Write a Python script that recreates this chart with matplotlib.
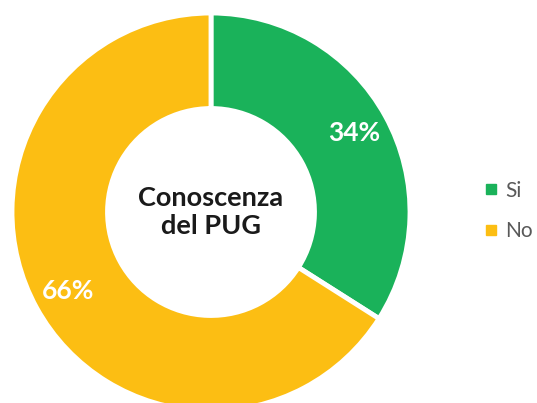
import matplotlib
matplotlib.use("Agg")
import matplotlib.pyplot as plt
from matplotlib.lines import Line2D

categories = ["Si", "No"]
values = [34, 66]
colors = ["#1AB25A", "#FCBE13"]
center_title = "Conoscenza\ndel PUG"

plt.rcParams['font.family'] = ['Lato', 'DejaVu Sans']

fig = plt.figure(figsize=(5.37, 4.03), dpi=100)
W, H = 537, 403
cx, cy, r = 211, 212, 199
ax = fig.add_axes([(cx - r) / W, (H - cy - r) / H, 2 * r / W, 2 * r / H])

wedges, texts, autotexts = ax.pie(
    values, colors=colors, startangle=90, counterclock=False,
    radius=1, autopct=lambda p: f"{p:.0f}%", pctdistance=0.82,
    wedgeprops=dict(width=0.48, edgecolor="white", linewidth=3.5),
    textprops=dict(color="white", fontsize=19, fontweight="bold"))
ax.set_xlim(-1, 1)
ax.set_ylim(-1, 1)
ax.set_aspect("equal")
ax.axis("off")

ax.text(0, 0, center_title, ha="center", va="center", fontsize=19.5,
        fontweight="bold", color="#1a1a1a", linespacing=1.25)

handles = [Line2D([], [], marker="s", linestyle="none", markersize=7.5,
                  markerfacecolor=c, markeredgecolor=c) for c in colors]
fig.legend(handles, categories, loc="center left", bbox_to_anchor=(466 / W, 1 - 211 / H),
           frameon=False, fontsize=15, labelcolor="#595959", handletextpad=0.2,
           labelspacing=1.0, handlelength=1.0, borderpad=0.2)

fig.savefig("out.png", dpi=100)
